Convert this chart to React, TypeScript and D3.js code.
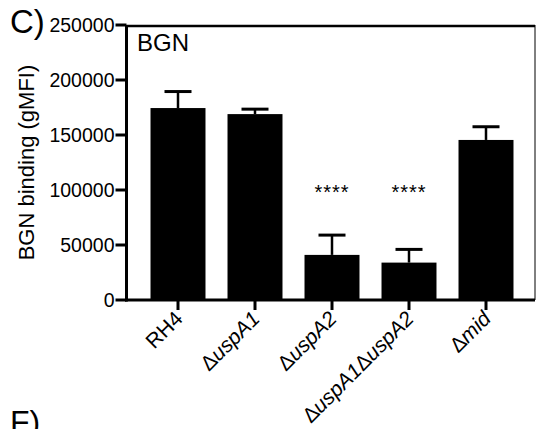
import React from "react";
import * as d3 from "d3";

const categories = ["RH4", "ΔuspA1", "ΔuspA2", "ΔuspA1ΔuspA2", "Δmid"];
const means = [174500, 169000, 41000, 34000, 145500];
const errors = [15000, 4500, 18000, 12000, 12000];
const significance = ["", "", "****", "****", ""];
const starLevel = 102000;
const yTicks = [0, 50000, 100000, 150000, 200000, 250000];

const W = 536;
const H = 429;
const font = "'Liberation Sans', Arial, Helvetica, sans-serif";

function Label({ name }: { name: string }) {
  if (!name.includes("Δ")) return <>{name}</>;
  const parts = name.split("Δ").filter((p) => p.length > 0);
  return (
    <>
      {parts.map((p, i) => (
        <React.Fragment key={i}>
          <tspan>Δ</tspan>
          <tspan fontStyle="italic">{p}</tspan>
        </React.Fragment>
      ))}
    </>
  );
}

export default function App() {
  const x0 = 126.5;
  const x1 = 535;
  const yTop = 25;
  const yBottom = 300;
  const y = d3.scaleLinear().domain([0, 250000]).range([yBottom, yTop]);
  const x = d3
    .scaleBand<string>()
    .domain(categories)
    .range([139.5, 524.5])
    .paddingInner(0.286)
    .paddingOuter(0.143);
  const bw = x.bandwidth();
  const capW = 27;

  return (
    <div style={{ position: "absolute", left: 0, top: 0 }}>
      <svg width={W} height={H} style={{ display: "block", background: "#fff" }} fontFamily={font}>
        <rect x={0} y={0} width={W} height={H} fill="#fff" />
        {categories.map((c, i) => {
          const cx = (x(c) as number) + bw / 2;
          const top = y(means[i]);
          const et = y(means[i] + errors[i]);
          return (
            <g key={c}>
              <line x1={cx} x2={cx} y1={top} y2={et} stroke="#000" strokeWidth={2.5} />
              <line x1={cx - capW / 2} x2={cx + capW / 2} y1={et} y2={et} stroke="#000" strokeWidth={3} />
              <rect x={x(c)} y={top} width={bw} height={yBottom - top} fill="#000" />
              {significance[i] && (
                <text
                  x={cx}
                  y={y(starLevel) + 11}
                  textAnchor="middle"
                  fontSize={20}
                  letterSpacing={1}
                >
                  {significance[i]}
                </text>
              )}
            </g>
          );
        })}
        <line x1={x0} x2={x1} y1={yTop + 1} y2={yTop + 1} stroke="#000" strokeWidth={2.5} />
        <line x1={x1} x2={x1} y1={yTop} y2={yBottom} stroke="#000" strokeWidth={1} />
        <line x1={x0} x2={x0} y1={yTop} y2={yBottom + 1.5} stroke="#000" strokeWidth={3} />
        <line x1={x0 - 1.5} x2={x1} y1={yBottom} y2={yBottom} stroke="#000" strokeWidth={3} />
        {yTicks.map((t) => (
          <g key={t}>
            <line x1={x0 - 11} x2={x0} y1={y(t)} y2={y(t)} stroke="#000" strokeWidth={3} />
            <text x={x0 - 12} y={y(t) + 7} textAnchor="end" fontSize={19.5}>
              {t}
            </text>
          </g>
        ))}
        {categories.map((c) => {
          const cx = (x(c) as number) + bw / 2;
          return (
            <g key={c}>
              <line x1={cx} x2={cx} y1={yBottom} y2={yBottom + 10} stroke="#000" strokeWidth={3} />
              <text
                transform={`translate(${cx + 6},${yBottom + 20}) rotate(-45)`}
                textAnchor="end"
                fontSize={21}
              >
                <Label name={c} />
              </text>
            </g>
          );
        })}
        <text
          transform={`translate(34,${(yTop + yBottom) / 2}) rotate(-90)`}
          textAnchor="middle"
          fontSize={22}
        >
          BGN binding (gMFI)
        </text>
        <text x={137} y={51} fontSize={24}>
          BGN
        </text>
        <text x={10} y={33} fontSize={33}>
          C)
        </text>
        <text x={10} y={433} fontSize={32}>
          F)
        </text>
      </svg>
    </div>
  );
}
